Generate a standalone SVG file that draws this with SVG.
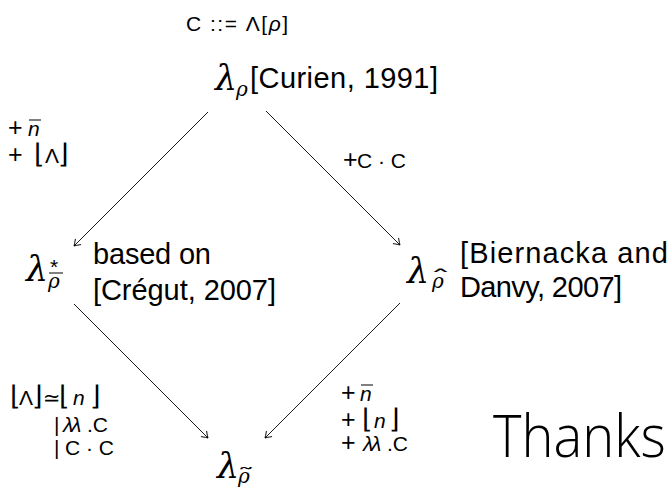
<svg xmlns="http://www.w3.org/2000/svg" width="671" height="488" viewBox="0 0 671 488">
<style>
.sans{font-family:"Liberation Sans","DejaVu Sans",sans-serif;fill:#000}
.big{font-size:29px}
.lab{font-size:21px}
.pl{font-size:25px}
.fl{font-family:"DejaVu Sans",sans-serif;font-size:27px;font-weight:200}
.it{font-style:italic}
.lam{font-family:"DejaVu Serif","Liberation Serif",serif;font-style:italic;font-size:35px;fill:#000}
.sub{font-family:"DejaVu Serif","Liberation Serif",serif;font-style:italic;font-size:20px;fill:#000}
.acc{font-family:"DejaVu Sans",sans-serif;font-size:20px;fill:#000}
.rule{stroke:#000;stroke-width:1}
.edge{stroke:#000;stroke-width:0.9;fill:none;marker-end:url(#arr)}
.thanks{font-family:"Open Sans","Lato","Liberation Sans",sans-serif;font-weight:300;font-size:59px;fill:#000}
</style>
<defs>
<marker id="arr" viewBox="-8 -5 10 10" refX="0" refY="0" markerWidth="10" markerHeight="10" markerUnits="userSpaceOnUse" orient="auto">
<path d="M -6 -4 Q -2 -1 0 0 Q -2 1 -6 4" fill="none" stroke="#000" stroke-width="0.9"/>
</marker>
</defs>

<text class="sans lab" x="186" y="31" font-size="22" textLength="102" lengthAdjust="spacing">C ::= Λ[<tspan class="it">ρ</tspan>]</text>

<g id="node-top">
<text class="lam" x="215" y="90">λ</text>
<text class="sub" x="236" y="96">ρ</text>
<text class="sans big" x="250" y="88" textLength="188" lengthAdjust="spacing">[Curien, 1991]</text>
</g>

<g id="node-left">
<text class="lam" x="26" y="281">λ</text>
<text class="sans lab" x="50" y="274">*</text>
<line class="rule" x1="49" y1="273" x2="63" y2="273"/>
<text class="sub" x="48" y="288">ρ</text>
<text class="sans big" x="93" y="264" textLength="118" lengthAdjust="spacing">based on</text>
<text class="sans big" x="93" y="300" textLength="183" lengthAdjust="spacing">[Crégut, 2007]</text>
</g>

<g id="node-right">
<text class="lam" x="407" y="283">λ</text>
<text class="acc" transform="translate(440.5,284) scale(2.2,1)" text-anchor="middle">ˆ</text>
<text class="sub" x="432" y="288">ρ</text>
<text class="sans big" x="460" y="263" textLength="208" lengthAdjust="spacing">[Biernacka and</text>
<text class="sans big" x="460" y="297" textLength="162" lengthAdjust="spacing">Danvy, 2007]</text>
</g>

<g id="node-bottom">
<text class="lam" x="217" y="478">λ</text>
<text class="acc" transform="translate(246,482) scale(1.8,1)" text-anchor="middle">˜</text>
<text class="sub" x="238" y="483">ρ</text>
</g>

<g id="connectors">
<line class="edge" x1="208" y1="112" x2="74" y2="246"/>
<line class="edge" x1="266" y1="111" x2="400" y2="245"/>
<line class="edge" x1="74" y1="304" x2="208" y2="438"/>
<line class="edge" x1="400" y1="303" x2="265" y2="438"/>
</g>

<g id="labels">
<text class="sans lab" x="8" y="136"><tspan class="pl">+</tspan><tspan class="it" x="28">n</tspan></text>
<line class="rule" x1="29" y1="120" x2="41" y2="120"/>
<text class="sans lab" x="8" y="163"><tspan class="pl">+</tspan><tspan class="fl" x="34">⌊</tspan><tspan x="45">Λ</tspan><tspan class="fl" x="58">⌋</tspan></text>

<text class="sans lab" x="343" y="168"><tspan class="pl">+</tspan><tspan x="357">C · C</tspan></text>

<text class="sans lab" x="10" y="405"><tspan class="fl">⌊</tspan><tspan x="19">Λ</tspan><tspan class="fl" x="32">⌋</tspan><tspan x="43">≃</tspan><tspan class="fl" x="59">⌊</tspan><tspan class="it" x="73">n</tspan><tspan class="fl" x="90">⌋</tspan></text>
<text class="sans lab" x="54" y="432">|<tspan class="it" x="63">λ</tspan><tspan class="it" x="71">λ</tspan><tspan x="87">.C</tspan></text>
<text class="sans lab" x="54" y="455">|<tspan x="65">C · C</tspan></text>

<text class="sans lab" x="341" y="401"><tspan class="pl">+</tspan><tspan class="it" x="360">n</tspan></text>
<line class="rule" x1="361" y1="385" x2="373" y2="385"/>
<text class="sans lab" x="341" y="428"><tspan class="pl">+</tspan><tspan class="fl" x="362">⌊</tspan><tspan class="it" x="374">n</tspan><tspan class="fl" x="389">⌋</tspan></text>
<text class="sans lab" x="341" y="451"><tspan class="pl">+</tspan><tspan class="it" x="363">λ</tspan><tspan class="it" x="371">λ</tspan><tspan x="387">.C</tspan></text>
</g>

<text class="thanks" transform="translate(493,457) scale(0.9,1)" x="0" y="0" textLength="192" lengthAdjust="spacingAndGlyphs">Thanks</text>
</svg>
